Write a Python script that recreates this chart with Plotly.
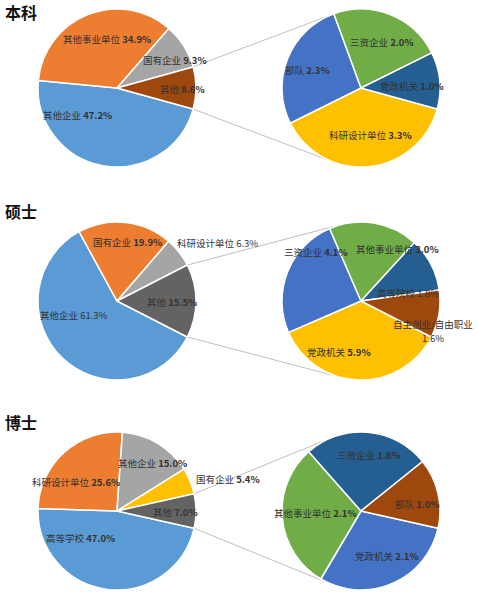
import math
import plotly.graph_objects as go

W, H = 478, 600

# ---------------- data ----------------
section_titles = ["本科", "硕士", "博士"]

bk_main_labels = ["其他企业", "其他事业单位", "国有企业", "其他"]
bk_main_values = [47.2, 34.9, 9.3, 8.6]
bk_sub_labels = ["科研设计单位", "部队", "三资企业", "党政机关"]
bk_sub_values = [3.3, 2.3, 2.0, 1.0]

ss_main_labels = ["其他企业", "国有企业", "科研设计单位", "其他"]
ss_main_values = [61.3, 19.9, 6.3, 15.5]
ss_sub_labels = ["党政机关", "三资企业", "其他事业单位", "高等院校", "自主创业/自由职业"]
ss_sub_values = [5.9, 4.1, 3.0, 1.8, 1.6]

bs_main_labels = ["高等学校", "科研设计单位", "其他企业", "国有企业", "其他"]
bs_main_values = [47.0, 25.6, 15.0, 5.4, 7.0]
bs_sub_labels = ["党政机关", "其他事业单位", "三资企业", "部队"]
bs_sub_values = [2.1, 2.1, 1.8, 1.0]

# ---------------- styling / layout ----------------
palette = ["#5B9BD5", "#ED7D31", "#A5A5A5", "#FFC000", "#4472C4",
           "#70AD47", "#255E91", "#9E480E", "#636363"]
FONT = "Noto Sans CJK SC"
LABEL_SIZE = 9.5
LABEL_COLOR = "#333333"

left_cx, right_cx = 117, 361
section_cy = [88, 301, 511]
title_cy = [12, 211, 422]
R = 79

# label offsets (px, relative to each pie centre; y down)
label_offsets = [
    ([(-40, 27), (-10, -49), (58, -28), (65, 1)],
     [(9, 47), (-54, -18), (21, -46), (51, -2)]),
    ([(-43, 14), (10, -59), (100, -58), (55, 1)],
     [(-22, 51), (-45, -49), (36, -52), (47, -8), (72, 23)]),
    ([(-37, 27), (-41, -29), (35, -48), (111, -32), (58, 1)],
     [(26, 45), (-46, 2), (8, -56), (56, -7)]),
]
plain_number = {(1, 0, 0), (1, 0, 2), (1, 1, 3), (1, 1, 4)}  # (section, pie, idx)
two_line = {(1, 1, 4)}
SECOND_LINE_GAP = 14

sections = [
    (bk_main_labels, bk_main_values, bk_sub_labels, bk_sub_values),
    (ss_main_labels, ss_main_values, ss_sub_labels, ss_sub_values),
    (bs_main_labels, bs_main_values, bs_sub_labels, bs_sub_values),
]


def px_domain(cx, cy, r):
    return dict(x=[(cx - r) / W, (cx + r) / W],
                y=[1 - (cy + r) / H, 1 - (cy - r) / H])


def to_paper(X, Y):  # math coords (Y up, px) -> paper
    return X / W, Y / H


def tangent_point(P, C, r, upper):
    dx, dy = P[0] - C[0], P[1] - C[1]
    d = math.hypot(dx, dy)
    a = math.atan2(dy, dx)
    phi = math.acos(r / d)
    pts = [(C[0] + r * math.cos(a + s * phi), C[1] + r * math.sin(a + s * phi))
           for s in (1, -1)]
    return max(pts, key=lambda p: p[1]) if upper else min(pts, key=lambda p: p[1])


def label_ann(x, y, text):
    return dict(x=x, y=y, xref="paper", yref="paper", text=text,
                showarrow=False, xanchor="center", yanchor="middle",
                font=dict(family=FONT, size=LABEL_SIZE, color=LABEL_COLOR))


fig = go.Figure()
annotations = []
shapes = []

for si, (ml, mv, sl, sv) in enumerate(sections):
    cy = section_cy[si]
    n_main = len(mv)
    other_share = mv[-1] / sum(mv)
    rotation = 90 + 180 * other_share
    main_colors = palette[:n_main - 1] + [palette[n_main - 1 + len(sv)]]
    sub_colors = palette[n_main - 1:n_main - 1 + len(sv)]

    for pi, (labels, values, colors, cx) in enumerate(
            [(ml, mv, main_colors, left_cx), (sl, sv, sub_colors, right_cx)]):
        fig.add_trace(go.Pie(
            labels=labels, values=values, sort=False, direction="clockwise",
            rotation=rotation, textinfo="none", hoverinfo="label+value",
            marker=dict(colors=colors, line=dict(color="white", width=1.5)),
            domain=px_domain(cx, cy, R), showlegend=False,
        ))
        for k, (lab, val) in enumerate(zip(labels, values)):
            key = (si, pi, k)
            num = f"{val:.1f}%"
            if key not in plain_number:
                num = f"<b>{num}</b>"
            dx, dy = label_offsets[si][pi][k]
            if key in two_line:
                x, y = to_paper(cx + dx, H - (cy + dy))
                annotations.append(label_ann(x, y, lab))
                x2, y2 = to_paper(cx + dx, H - (cy + dy + SECOND_LINE_GAP))
                annotations.append(label_ann(x2, y2, num))
            else:
                x, y = to_paper(cx + dx, H - (cy + dy))
                annotations.append(label_ann(x, y, lab + " " + num))

    # connector lines from "其他" slice edges to the secondary pie
    half = math.pi * other_share
    Cl = (left_cx, H - cy)
    Cr = (right_cx, H - cy)
    for upper, sgn in ((True, 1), (False, -1)):
        P = (Cl[0] + R * math.cos(sgn * half), Cl[1] + R * math.sin(sgn * half))
        T = tangent_point(P, Cr, R, upper)
        x0, y0 = to_paper(*P)
        x1, y1 = to_paper(*T)
        shapes.append(dict(type="line", xref="paper", yref="paper",
                           x0=x0, y0=y0, x1=x1, y1=y1,
                           line=dict(color="#BFBFBF", width=1), layer="below"))

    tx, ty = to_paper(3, H - title_cy[si])
    annotations.append(dict(
        x=tx, y=ty, xref="paper", yref="paper", text=f"<b>{section_titles[si]}</b>",
        showarrow=False, xanchor="left", yanchor="middle",
        font=dict(family=FONT, size=16, color="#111111")))

fig.update_layout(
    width=W, height=H, margin=dict(l=0, r=0, t=0, b=0),
    paper_bgcolor="white", plot_bgcolor="white",
    annotations=annotations, shapes=shapes,
)

fig.write_html("out.html",
               config={"displayModeBar": False},
               post_script="document.body.style.margin='0px';"
                           "document.body.style.overflow='hidden';")
